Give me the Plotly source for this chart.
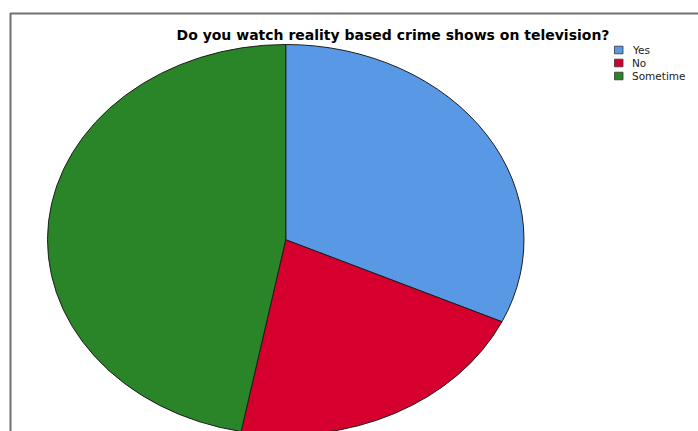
import plotly.graph_objects as go

W, H = 698, 431

categories = ["Yes", "No", "Sometime"]
values = [31.9, 21.1, 47.0]
colors = ["#5898e5", "#d5002e", "#2a8428"]
title_text = "Do you watch reality based crime shows on television?"

fig = go.Figure(
    go.Pie(
        labels=categories,
        values=values,
        marker=dict(colors=colors, line=dict(color="#1e1e1e", width=1)),
        sort=False,
        direction="clockwise",
        rotation=0,
        textinfo="none",
        hoverinfo="label+percent",
        domain=dict(x=[0, 1], y=[0, 1]),
        showlegend=False,
    )
)

def px_x(x):
    return x / W

def px_y(y):
    return 1 - y / H

shapes = [
    # frame (top and left edges)
    dict(type="line", xref="paper", yref="paper", x0=px_x(10), x1=px_x(700),
         y0=px_y(13.5), y1=px_y(13.5), line=dict(color="#707070", width=2)),
    dict(type="line", xref="paper", yref="paper", x0=px_x(10.5), x1=px_x(10.5),
         y0=px_y(13), y1=px_y(440), line=dict(color="#707070", width=2)),
]
annotations = []

# custom compact legend
row_y = [50.0, 63.0, 76.0]
for lab, col, ry in zip(categories, colors, row_y):
    shapes.append(dict(type="rect", xref="paper", yref="paper",
                       x0=px_x(614.5), x1=px_x(623), y0=px_y(ry - 3.8), y1=px_y(ry + 3.8),
                       fillcolor=col, line=dict(color="#333333", width=0.8)))
    annotations.append(dict(text=lab, xref="paper", yref="paper", x=px_x(631), y=px_y(ry),
                            xanchor="left", yanchor="middle", showarrow=False,
                            borderpad=0,
                            font=dict(family="DejaVu Sans", size=10.5, color="#222222")))

fig.update_layout(
    width=W, height=H,
    margin=dict(l=0, r=0, t=0, b=0),
    paper_bgcolor="white",
    plot_bgcolor="white",
    title=dict(text="<b>" + title_text + "</b>", x=px_x(393), xanchor="center",
               y=px_y(35), yanchor="middle",
               font=dict(family="DejaVu Sans", size=14, color="black")),
    shapes=shapes,
    annotations=annotations,
    showlegend=False,
)

post = """
var gd = document.getElementById('{plot_id}');
var layer = gd.querySelector('.pielayer');
if (layer) {
  var bb = layer.getBBox();
  var X0 = 47.5, X1 = 524, Y0 = 44.5, Y1 = 435;
  layer.setAttribute('transform', 'translate(' + X0 + ',' + Y0 + ') scale(' +
      ((X1 - X0) / bb.width) + ',' + ((Y1 - Y0) / bb.height) + ') translate(' +
      (-bb.x) + ',' + (-bb.y) + ')');
  layer.querySelectorAll('path').forEach(function (p) {
    p.style.vectorEffect = 'non-scaling-stroke';
  });
}
"""

fig.write_html("out.html", post_script=post, config={"displayModeBar": False})
